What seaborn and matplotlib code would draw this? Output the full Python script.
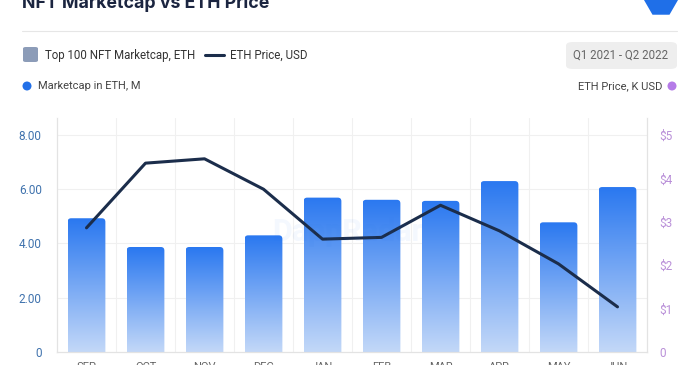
import numpy as np
import pandas as pd
import matplotlib
matplotlib.use("Agg")
import matplotlib.pyplot as plt
import seaborn as sns
from matplotlib.patches import FancyBboxPatch, RegularPolygon, Ellipse
from matplotlib.colors import LinearSegmentedColormap
from matplotlib.transforms import IdentityTransform

# data
months = ["SEP", "OCT", "NOV", "DEC", "JAN", "FEB", "MAR", "APR", "MAY", "JUN"]
marketcap_eth_m = [4.93, 3.87, 3.87, 4.30, 5.69, 5.61, 5.57, 6.30, 4.78, 6.08]
eth_price_k = [2.86, 4.35, 4.45, 3.75, 2.60, 2.64, 3.38, 2.79, 2.03, 1.04]
left_ticks = [0, 2, 4, 6, 8]
left_labels = ["0", "2.00", "4.00", "6.00", "8.00"]
right_ticks = [0, 1, 2, 3, 4, 5]
right_labels = ["0", "$1", "$2", "$3", "$4", "$5"]

df = pd.DataFrame({"month": months, "mcap": marketcap_eth_m, "price": eth_price_k})

sns.set_theme(style="white")
plt.rcParams["font.family"] = ["Roboto", "DejaVu Sans"]

W, H = 700, 365
fig = plt.figure(figsize=(W / 100, H / 100), dpi=100)
ax = fig.add_axes([57 / W, 13 / H, 590 / W, 234 / H])

sns.barplot(data=df, x="month", y="mcap", ax=ax, width=0.64, color="#2b7bf0", zorder=2)

# gradient fill with rounded tops
cmap = LinearSegmentedColormap.from_list("bars", ["#c3d8f8", "#2a78f0"])
grad = np.linspace(0, 1, 256).reshape(-1, 1)
for bar in list(ax.patches):
    x0, w, h = bar.get_x(), bar.get_width(), bar.get_height()
    bar.set_visible(False)
    shape = FancyBboxPatch((x0, -0.5), w, h + 0.5,
                           boxstyle="round,pad=0,rounding_size=0.06",
                           mutation_aspect=2.2, transform=ax.transData,
                           facecolor="none", edgecolor="none")
    ax.add_patch(shape)
    im = ax.imshow(grad, extent=[x0, x0 + w, 0, h], origin="lower", aspect="auto",
                   cmap=cmap, zorder=2)
    im.set_clip_path(shape)

ax.set_xlim(-0.5, 9.5)
ax.set_ylim(0, 8.625)
ax.set_yticks(left_ticks)
ax.set_yticklabels(left_labels, color="#3f72ad", fontsize=8.5)
ax.set_xticks(range(len(months)))
ax.set_xticklabels(months, color="#666666", fontsize=8)
ax.tick_params(axis="x", pad=7, length=0)
ax.tick_params(axis="y", pad=11, length=0)
ax.set_xlabel("")
ax.set_ylabel("")

# grid: horizontal at ticks, vertical between categories
for v in left_ticks[1:]:
    ax.axhline(v, color="#f0f0f0", lw=0.8, zorder=0)
for v in np.arange(0.5, len(months) - 0.5, 1):
    ax.axvline(v, color="#f0f0f0", lw=0.8, zorder=0)

ax.spines["top"].set_visible(False)
for s in ["left", "bottom", "right"]:
    ax.spines[s].set_color("#e3e3e3")
    ax.spines[s].set_linewidth(0.8)

ax2 = ax.twinx()
sns.lineplot(x=np.arange(len(months)), y=df["price"], ax=ax2, color="#1b2d4b",
             linewidth=2.2, zorder=3)
ax2.set_ylim(0, 5.39)
ax2.set_yticks(right_ticks)
ax2.set_yticklabels(right_labels, color="#b98fd8", fontsize=8.5)
ax2.tick_params(axis="y", pad=9, length=0)
ax2.set_ylabel("")
ax2.spines["top"].set_visible(False)
for s in ["left", "bottom", "right"]:
    ax2.spines[s].set_color("#e3e3e3")
    ax2.spines[s].set_linewidth(0.8)

# faint watermark
fig.text(272 / W, 1 - 232 / H, "DappRadar", fontsize=22, fontweight="bold",
         color="#2a78f0", alpha=0.05, va="center", ha="left")

# header
fig.text(22 / W, 1 - 8 / H, "NFT Marketcap vs ETH Price", fontsize=12.8,
         fontweight="bold", color="#1b2540", va="baseline", ha="left",
         family=["Inter", "DejaVu Sans"])
fig.add_artist(plt.Line2D([22 / W, 677 / W], [1 - 31 / H, 1 - 31 / H],
                          color="#e6e6e6", lw=0.8))
fig.add_artist(RegularPolygon((661, H - 0), 6, radius=17, orientation=np.pi / 6,
                              transform=IdentityTransform(),
                              facecolor="#1f6fe8", edgecolor="none"))

fig.add_artist(FancyBboxPatch((23 / W, 1 - 62 / H), 15 / W, 15 / H,
                              boxstyle="round,pad=0,rounding_size=0.004",
                              transform=fig.transFigure, facecolor="#8c9cb8",
                              edgecolor="none"))
fig.text(45 / W, 1 - 55 / H, "Top 100 NFT Marketcap, ETH", fontsize=8.3,
         color="#333333", va="center", ha="left")
fig.add_artist(plt.Line2D([205 / W, 224 / W], [1 - 55 / H, 1 - 55 / H],
                          color="#1b2d4b", lw=2.2))
fig.text(230 / W, 1 - 55 / H, "ETH Price, USD", fontsize=8.3,
         color="#333333", va="center", ha="left")

fig.add_artist(FancyBboxPatch((566 / W, 1 - 69 / H), 111 / W, 27 / H,
                              boxstyle="round,pad=0,rounding_size=0.01",
                              transform=fig.transFigure, facecolor="#eeeeee",
                              edgecolor="none"))
fig.text(621 / W, 1 - 55.5 / H, "Q1 2021 - Q2 2022", fontsize=8.3,
         color="#666666", va="center", ha="center")

fig.add_artist(Ellipse((27 / W, 1 - 86 / H), 9 / W, 9 / H, transform=fig.transFigure,
                       facecolor="#2270e8", edgecolor="none"))
fig.text(38 / W, 1 - 86 / H, "Marketcap in ETH, M", fontsize=8,
         color="#444444", va="center", ha="left")
fig.add_artist(Ellipse((672 / W, 1 - 86 / H), 9 / W, 9 / H, transform=fig.transFigure,
                       facecolor="#b57be8", edgecolor="none"))
fig.text(662 / W, 1 - 86 / H, "ETH Price, K USD", fontsize=8,
         color="#444444", va="center", ha="right")

fig.savefig("out.png", dpi=100, facecolor="white")
